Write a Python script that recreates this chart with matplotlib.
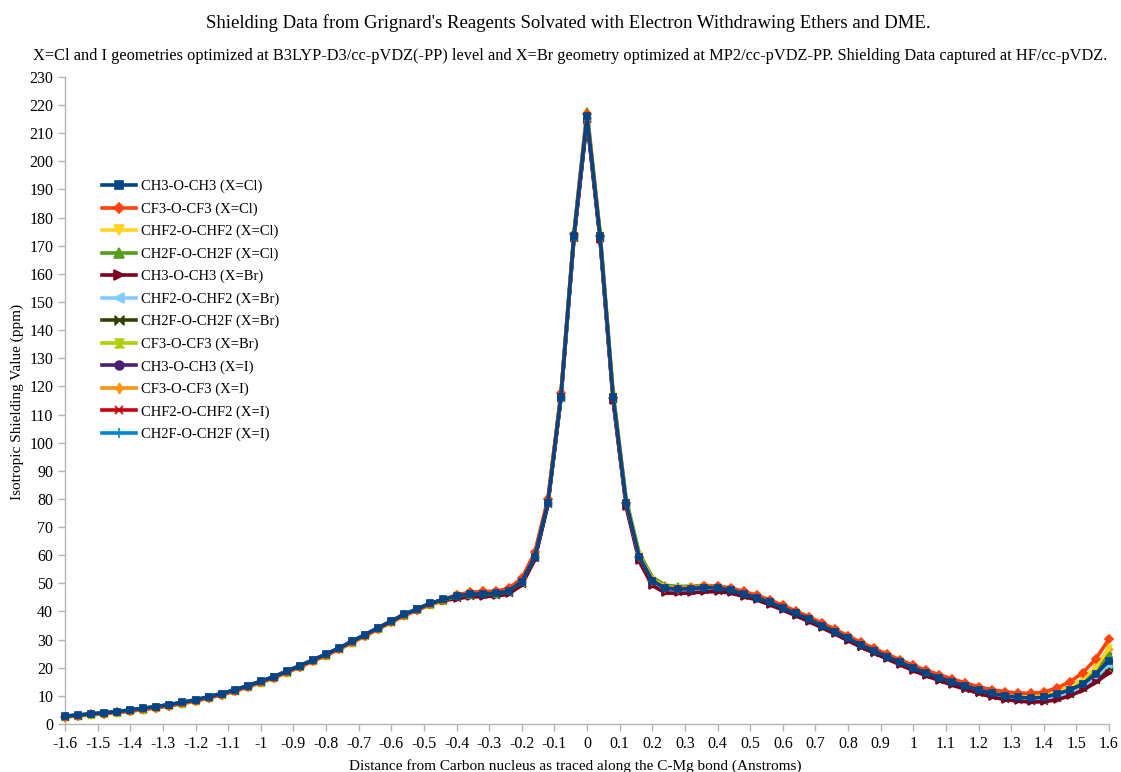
import numpy as np
import matplotlib
matplotlib.use("Agg")
import matplotlib.pyplot as plt
from matplotlib.path import Path
from matplotlib.ticker import FormatStrFormatter, MultipleLocator

plt.rcParams['font.family'] = ['Liberation Serif', 'DejaVu Serif']

# Distance grid along the C-Mg bond (Angstroms), 0.04 step
distance = np.round(np.linspace(-1.6, 1.6, 81), 2)

# Isotropic shielding (ppm) for each solvated reagent
ch3_cl = [2.8, 3.2, 3.6, 4.0, 4.4, 5.0, 5.6, 6.2, 6.9, 7.7,
          8.6, 9.7, 10.8, 12.1, 13.6, 15.2, 16.8, 18.8, 20.7, 22.8,
          24.8, 27.0, 29.4, 31.8, 34.2, 36.6, 39.0, 40.9, 42.9, 44.3,
          45.5, 46.1, 46.3, 46.4, 47.3, 50.6, 59.5, 78.7, 116.4, 173.6,
          216.0,
          173.6, 116.4, 78.7, 59.5, 50.9, 48.2, 47.9, 48.1, 48.5, 48.3,
          47.6, 46.2, 44.9, 43.2, 41.3, 39.3, 37.2, 35.0, 32.8, 30.4,
          28.1, 26.0, 23.9, 21.9, 19.9, 18.1, 16.5, 14.9, 13.5, 12.1,
          10.9, 10.1, 9.5, 9.2, 9.5, 10.7, 12.1, 14.2, 17.8, 22.5]
cf3_cl = [2.6, 3.0, 3.4, 3.7, 4.1, 4.6, 5.2, 5.8, 6.5, 7.3,
          8.2, 9.3, 10.4, 11.7, 13.2, 14.8, 16.4, 18.4, 20.3, 22.4,
          24.4, 26.6, 29.0, 31.4, 33.8, 36.2, 38.6, 40.5, 42.6, 44.2,
          45.9, 46.8, 47.1, 47.2, 48.2, 51.8, 61.0, 80.0, 117.5, 174.2,
          217.0,
          173.4, 116.0, 78.4, 59.3, 51.0, 48.4, 48.1, 48.4, 48.9, 48.9,
          48.4, 47.1, 45.8, 44.1, 42.2, 40.2, 38.1, 35.9, 33.7, 31.3,
          29.0, 26.9, 24.8, 22.8, 20.8, 19.1, 17.5, 16.0, 14.6, 13.2,
          12.2, 11.5, 11.0, 10.9, 11.3, 12.8, 15.0, 18.2, 23.2, 30.2]
chf2_cl = [2.6, 3.0, 3.4, 3.8, 4.2, 4.7, 5.3, 5.9, 6.6, 7.4,
           8.3, 9.4, 10.5, 11.8, 13.3, 14.9, 16.5, 18.5, 20.4, 22.5,
           24.5, 26.7, 29.1, 31.5, 33.9, 36.3, 38.7, 40.6, 42.6, 44.1,
           45.7, 46.4, 46.6, 46.7, 47.7, 51.2, 60.3, 79.5, 117.0, 174.0,
           217.0,
           174.0, 116.8, 79.0, 59.9, 51.4, 48.7, 48.4, 48.6, 49.0, 48.8,
           48.1, 46.7, 45.4, 43.7, 41.8, 39.8, 37.7, 35.5, 33.3, 30.9,
           28.6, 26.5, 24.4, 22.4, 20.4, 18.6, 17.0, 15.4, 14.0, 12.6,
           11.6, 10.8, 10.3, 10.1, 10.4, 11.6, 13.4, 16.0, 20.4, 26.9]
ch2f_cl = [2.6, 3.0, 3.4, 3.8, 4.2, 4.7, 5.3, 5.9, 6.6, 7.4,
           8.3, 9.4, 10.5, 11.8, 13.3, 14.9, 16.5, 18.5, 20.4, 22.5,
           24.5, 26.7, 29.1, 31.5, 33.9, 36.3, 38.7, 40.6, 42.6, 44.0,
           45.4, 46.0, 46.2, 46.3, 47.2, 50.6, 59.6, 79.0, 117.0, 174.8,
           218.0,
           175.0, 118.0, 80.0, 60.8, 52.2, 49.3, 48.9, 49.0, 49.3, 49.0,
           48.1, 46.6, 45.3, 43.6, 41.7, 39.7, 37.6, 35.4, 33.2, 30.8,
           28.5, 26.4, 24.3, 22.3, 20.3, 18.5, 16.9, 15.3, 13.8, 12.3,
           11.2, 10.4, 9.9, 9.7, 10.0, 11.2, 12.9, 15.3, 19.3, 24.8]
ch3_br = [2.6, 3.0, 3.4, 3.8, 4.2, 4.8, 5.4, 6.0, 6.7, 7.5,
          8.4, 9.5, 10.6, 11.9, 13.4, 15.0, 16.6, 18.6, 20.5, 22.6,
          24.6, 26.8, 29.2, 31.6, 34.0, 36.4, 38.8, 40.7, 42.6, 43.8,
          44.6, 45.1, 45.3, 45.4, 46.2, 49.4, 58.4, 77.8, 115.6, 172.4,
          214.5,
          172.0, 114.8, 77.2, 57.8, 49.2, 46.6, 46.4, 46.6, 47.0, 47.0,
          46.6, 45.3, 44.1, 42.4, 40.5, 38.5, 36.4, 34.2, 32.0, 29.6,
          27.3, 25.2, 23.1, 21.0, 19.0, 17.1, 15.4, 13.8, 12.3, 10.9,
          9.6, 8.7, 8.1, 7.8, 7.9, 8.6, 10.0, 12.0, 14.8, 18.2]
chf2_br = [2.7, 3.1, 3.5, 3.9, 4.3, 4.9, 5.5, 6.1, 6.8, 7.6,
           8.5, 9.6, 10.7, 12.0, 13.5, 15.1, 16.7, 18.7, 20.6, 22.7,
           24.7, 26.9, 29.3, 31.7, 34.1, 36.5, 38.9, 40.8, 42.8, 44.1,
           45.2, 45.8, 46.0, 46.1, 47.0, 50.2, 59.1, 78.3, 116.0, 173.0,
           215.5,
           173.0, 115.8, 78.2, 59.0, 50.3, 47.6, 47.3, 47.5, 47.9, 47.7,
           47.1, 45.7, 44.4, 42.7, 40.8, 38.8, 36.7, 34.5, 32.3, 29.9,
           27.6, 25.5, 23.4, 21.4, 19.4, 17.6, 16.0, 14.4, 12.9, 11.4,
           10.2, 9.3, 8.7, 8.4, 8.6, 9.6, 11.2, 13.4, 16.7, 21.0]
ch2f_br = [2.6, 3.0, 3.4, 3.8, 4.2, 4.8, 5.4, 6.0, 6.7, 7.5,
           8.4, 9.5, 10.6, 11.9, 13.4, 15.0, 16.6, 18.6, 20.5, 22.6,
           24.6, 26.8, 29.2, 31.6, 34.0, 36.4, 38.8, 40.7, 42.7, 44.0,
           44.9, 45.5, 45.7, 45.8, 46.7, 49.9, 58.9, 78.1, 115.8, 172.8,
           215.0,
           172.6, 115.4, 77.8, 58.6, 49.9, 47.2, 46.9, 47.1, 47.5, 47.3,
           47.0, 45.6, 44.3, 42.6, 40.7, 38.7, 36.6, 34.4, 32.2, 29.8,
           27.5, 25.4, 23.3, 21.2, 19.2, 17.4, 15.8, 14.2, 12.6, 11.1,
           9.9, 9.0, 8.4, 8.1, 8.3, 9.2, 10.7, 12.8, 15.8, 19.8]
cf3_br = [2.5, 2.8, 3.2, 3.6, 4.0, 4.5, 5.1, 5.7, 6.4, 7.2,
          8.1, 9.2, 10.3, 11.6, 13.1, 14.7, 16.3, 18.3, 20.2, 22.3,
          24.3, 26.5, 28.9, 31.3, 33.7, 36.1, 38.5, 40.4, 42.4, 43.8,
          45.4, 46.1, 46.3, 46.4, 47.3, 50.7, 59.7, 78.9, 116.6, 173.9,
          216.5,
          173.8, 116.6, 78.8, 59.6, 50.9, 48.2, 47.9, 48.1, 48.5, 48.2,
          47.4, 46.0, 44.7, 43.0, 41.1, 39.1, 37.0, 34.8, 32.6, 30.2,
          27.9, 25.8, 23.7, 21.7, 19.7, 17.9, 16.3, 14.6, 13.2, 11.8,
          10.6, 9.7, 9.1, 8.8, 9.1, 10.2, 11.8, 14.0, 17.4, 22.0]
ch3_i = [2.8, 3.2, 3.6, 4.0, 4.4, 5.0, 5.6, 6.2, 6.9, 7.7,
         8.6, 9.7, 10.8, 12.1, 13.6, 15.2, 16.8, 18.8, 20.7, 22.8,
         24.8, 27.0, 29.4, 31.8, 34.2, 36.6, 39.0, 40.9, 42.9, 44.2,
         45.3, 45.9, 46.1, 46.2, 47.1, 50.4, 59.3, 78.5, 116.2, 173.3,
         215.5,
         173.3, 116.1, 78.5, 59.3, 50.6, 47.9, 47.6, 47.8, 48.2, 48.0,
         47.4, 46.0, 44.7, 43.0, 41.1, 39.1, 37.0, 34.8, 32.6, 30.2,
         27.9, 25.8, 23.7, 21.7, 19.7, 17.9, 16.3, 14.7, 13.3, 11.9,
         10.7, 9.9, 9.3, 9.0, 9.3, 10.5, 11.9, 14.0, 17.6, 22.3]
cf3_i = [2.6, 3.0, 3.4, 3.7, 4.1, 4.6, 5.2, 5.8, 6.5, 7.3,
         8.2, 9.3, 10.4, 11.7, 13.2, 14.8, 16.4, 18.4, 20.3, 22.4,
         24.4, 26.6, 29.0, 31.4, 33.8, 36.2, 38.6, 40.5, 42.6, 44.1,
         45.8, 46.6, 46.8, 46.9, 47.9, 51.4, 60.6, 79.6, 117.1, 174.0,
         216.8,
         173.5, 116.2, 78.6, 59.5, 51.0, 48.4, 48.1, 48.3, 48.8, 48.8,
         48.2, 46.8, 45.5, 43.8, 41.9, 39.9, 37.8, 35.6, 33.4, 31.0,
         28.7, 26.6, 24.5, 22.5, 20.5, 18.7, 17.1, 15.5, 14.0, 12.5,
         11.5, 10.7, 10.2, 10.0, 10.3, 11.5, 13.3, 15.8, 20.1, 26.5]
chf2_i = [2.6, 3.0, 3.4, 3.8, 4.2, 4.8, 5.4, 6.0, 6.7, 7.5,
          8.4, 9.5, 10.6, 11.9, 13.4, 15.0, 16.6, 18.6, 20.5, 22.6,
          24.6, 26.8, 29.2, 31.6, 34.0, 36.4, 38.8, 40.7, 42.7, 44.1,
          45.1, 45.7, 45.9, 46.0, 46.9, 50.2, 59.1, 78.4, 116.1, 173.3,
          215.8,
          173.2, 116.0, 78.3, 59.1, 50.4, 47.7, 47.4, 47.6, 48.0, 47.8,
          47.3, 45.9, 44.6, 42.9, 41.0, 39.0, 36.9, 34.7, 32.5, 30.1,
          27.8, 25.7, 23.6, 21.6, 19.6, 17.8, 16.2, 14.7, 13.3, 12.0,
          11.0, 10.2, 9.7, 9.5, 9.8, 10.9, 12.6, 15.0, 18.9, 24.3]
ch2f_i = [2.7, 3.1, 3.5, 3.9, 4.3, 4.9, 5.5, 6.1, 6.8, 7.6,
          8.5, 9.6, 10.7, 12.0, 13.5, 15.1, 16.7, 18.7, 20.6, 22.7,
          24.7, 26.9, 29.3, 31.7, 34.1, 36.5, 38.9, 40.8, 42.8, 44.2,
          45.6, 46.2, 46.4, 46.5, 47.4, 50.7, 59.6, 78.8, 116.5, 173.7,
          216.2,
          173.7, 116.6, 78.9, 59.7, 51.2, 48.5, 48.2, 48.4, 48.8, 48.6,
          47.6, 46.2, 44.9, 43.2, 41.3, 39.3, 37.2, 35.0, 32.8, 30.4,
          28.1, 26.0, 23.9, 21.9, 19.9, 18.1, 16.5, 14.9, 13.4, 12.0,
          10.8, 9.9, 9.3, 9.0, 9.3, 10.5, 11.9, 14.0, 17.5, 22.1]

series = [ch3_cl, cf3_cl, chf2_cl, ch2f_cl, ch3_br, chf2_br,
          ch2f_br, cf3_br, ch3_i, cf3_i, chf2_i, ch2f_i]
labels = ["CH3-O-CH3 (X=Cl)", "CF3-O-CF3 (X=Cl)", "CHF2-O-CHF2 (X=Cl)",
          "CH2F-O-CH2F (X=Cl)", "CH3-O-CH3 (X=Br)", "CHF2-O-CHF2 (X=Br)",
          "CH2F-O-CH2F (X=Br)", "CF3-O-CF3 (X=Br)", "CH3-O-CH3 (X=I)",
          "CF3-O-CF3 (X=I)", "CHF2-O-CHF2 (X=I)", "CH2F-O-CH2F (X=I)"]
colors = ['#004586', '#ff420e', '#ffd320', '#579d1c', '#7e0021', '#83caff',
          '#314004', '#aecf00', '#4b1f6f', '#ff950e', '#c5000b', '#0084d1']

# bow-tie and hourglass symbols
bowtie = Path([(-1, -1), (-1, 1), (0, 0), (1, 1), (1, -1), (0, 0), (-1, -1)],
              [Path.MOVETO] + [Path.LINETO] * 5 + [Path.CLOSEPOLY])
hourglass = Path([(-1, -1), (1, -1), (0, 0), (1, 1), (-1, 1), (0, 0), (-1, -1)],
                 [Path.MOVETO] + [Path.LINETO] * 5 + [Path.CLOSEPOLY])
markers = ['s', 'D', 'v', '^', '>', '<', bowtie, hourglass, 'o', (4, 1, 0), 'x', '+']
msizes = [4.2, 3.6, 4.5, 4.5, 4.5, 4.5, 4.2, 4.2, 4.2, 5, 4.2, 5]

fig = plt.figure(figsize=(11.21, 7.72), dpi=100)
ax = fig.add_axes([0.058, 0.0622, 0.9313, 0.8381])

for i in range(len(series)):
    ax.plot(distance, series[i], color=colors[i], lw=2.6, marker=markers[i],
            ms=msizes[i], mec=colors[i], mfc=colors[i], mew=1.2,
            label=labels[i], zorder=30 - i, clip_on=False)

ax.set_xlim(-1.6, 1.6)
ax.set_ylim(0, 230)
ax.xaxis.set_major_locator(MultipleLocator(0.1))
ax.xaxis.set_major_formatter(FormatStrFormatter('%g'))
ax.yaxis.set_major_locator(MultipleLocator(10))
for s in ['top', 'right']:
    ax.spines[s].set_visible(False)
for s in ['left', 'bottom']:
    ax.spines[s].set_color('#b3b3b3')
    ax.spines[s].set_linewidth(1)
ax.tick_params(axis='both', colors='#b3b3b3', labelcolor='black',
               labelsize=11.5, length=5, width=1, direction='out')

ax.legend(loc='upper left', bbox_to_anchor=(0.03, 0.85), frameon=False,
          fontsize=10.5, handlelength=2.3, handletextpad=0.35,
          labelspacing=0.62, borderaxespad=0, markerscale=1.5)

fig.text(0.507, 0.970, "Shielding Data from Grignard's Reagents Solvated with Electron Withdrawing Ethers and DME.",
         ha='center', va='center', fontsize=13.5)
fig.text(0.5085, 0.928, "X=Cl and I geometries optimized at B3LYP-D3/cc-pVDZ(-PP) level and X=Br geometry optimized at MP2/cc-pVDZ-PP. Shielding Data captured at HF/cc-pVDZ.",
         ha='center', va='center', fontsize=11.8)
fig.text(0.513, 0.008, "Distance from Carbon nucleus as traced along the C-Mg bond (Anstroms)",
         ha='center', va='center', fontsize=11)
fig.text(0.015, 0.48, "Isotropic Shielding Value (ppm)", rotation=90,
         ha='center', va='center', fontsize=11)

fig.savefig("out.png", dpi=100)
